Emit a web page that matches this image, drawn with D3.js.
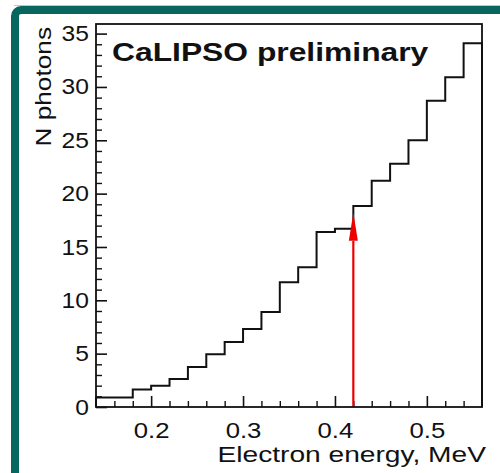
<!DOCTYPE html>
<html>
<head>
<meta charset="utf-8">
<script src="https://cdn.jsdelivr.net/npm/d3@7"></script>
<style>
    html, body { margin: 0; padding: 0; background: #fff; }
    svg { display: block; }
    text { font-family: "Liberation Sans", Arial, sans-serif; fill: #111; }
</style>
</head>
<body>
<script>

// histogram: 21 bins of 0.02 MeV starting at 0.14
var binStart = 0.14;
var binWidth = 0.02;
var counts = [0.9, 0.9, 1.63, 2.0, 2.63, 3.75, 4.94, 6.1, 7.3, 8.9, 11.7,
              13.1, 16.4, 16.7, 18.85, 21.2, 22.8, 25.0, 28.7, 30.9, 34.1];

var xTicks = [0.2, 0.3, 0.4, 0.5];
var yTicks = [0, 5, 10, 15, 20, 25, 30, 35];

// red marker arrow
var arrowEnergy = [0.42];
var arrowTop = [18.2];

var W = 500, H = 473;
var frame = { left: 96, top: 24, right: 482, bottom: 407 };

var svg = d3.select("body").append("svg")
    .attr("width", W)
    .attr("height", H);

// teal slide border (extends past the picture on right/bottom)
svg.append("line")
    .attr("x1", 14).attr("x2", W)
    .attr("y1", 5.5).attr("y2", 5.5)
    .attr("stroke", "#b3cdcf")
    .attr("stroke-width", 1);

svg.append("rect")
    .attr("x", 15).attr("y", 10)
    .attr("width", 600).attr("height", 600)
    .attr("rx", 6)
    .attr("fill", "none")
    .attr("stroke", "#07675f")
    .attr("stroke-width", 8);

var xMax = binStart + binWidth * counts.length;

var x = d3.scaleLinear()
    .domain([binStart, xMax])
    .range([frame.left, frame.right]);

var y = d3.scaleLinear()
    .domain([0, 35.9])
    .range([frame.bottom, frame.top]);

// text in the original is stretched along its reading direction
var SX = 1.17;

function stretch(sel, sx) {
    sel.each(function () {
        var t = d3.select(this);
        var tx = +t.attr("x") || 0;
        var ty = +t.attr("y") || 0;
        t.attr("x", null).attr("y", null)
            .attr("transform", "translate(" + tx + "," + ty + ") scale(" + sx + ",1)");
    });
}

// minor ticks
var xMinor = d3.range(1, counts.length)
    .map(function (i) { return +(binStart + i * binWidth).toFixed(2); })
    .filter(function (v) { return xTicks.indexOf(v) < 0; });

var yMinor = d3.range(1, 36).filter(function (v) { return v % 5 !== 0; });

svg.append("g")
    .attr("transform", "translate(0," + frame.bottom + ")")
    .call(d3.axisBottom(x).tickValues(xMinor).tickSize(-6).tickFormat(""))
    .call(function (g) { g.select(".domain").remove(); })
    .selectAll("line").attr("stroke", "#111").attr("stroke-width", 1.4);

svg.append("g")
    .attr("transform", "translate(" + frame.left + ",0)")
    .call(d3.axisLeft(y).tickValues(yMinor).tickSize(-6).tickFormat(""))
    .call(function (g) { g.select(".domain").remove(); })
    .selectAll("line").attr("stroke", "#111").attr("stroke-width", 1.4);

// major ticks + labels
var xAxis = svg.append("g")
    .attr("transform", "translate(0," + frame.bottom + ")")
    .call(d3.axisBottom(x)
        .tickValues(xTicks)
        .tickSize(-11)
        .tickPadding(15)
        .tickFormat(d3.format(".1f")));
xAxis.select(".domain").remove();
xAxis.selectAll("line").attr("stroke", "#111").attr("stroke-width", 1.6);
xAxis.selectAll("text")
    .attr("font-size", 22)
    .attr("font-family", "Liberation Sans, Arial, sans-serif")
    .attr("fill", "#111")
    .call(stretch, SX);

var yAxis = svg.append("g")
    .attr("transform", "translate(" + frame.left + ",0)")
    .call(d3.axisLeft(y)
        .tickValues(yTicks)
        .tickSize(-11)
        .tickPadding(7));
yAxis.select(".domain").remove();
yAxis.selectAll("line").attr("stroke", "#111").attr("stroke-width", 1.6);
yAxis.selectAll("text")
    .attr("font-size", 22)
    .attr("font-family", "Liberation Sans, Arial, sans-serif")
    .attr("fill", "#111")
    .call(stretch, 1.12);

// histogram outline
var pts = [[binStart, 0]];
counts.forEach(function (c, i) {
    pts.push([binStart + i * binWidth, c]);
});
pts.push([xMax, counts[counts.length - 1]]);
pts.push([xMax, 0]);

var step = d3.line()
    .x(function (d) { return x(d[0]); })
    .y(function (d) { return y(d[1]); })
    .curve(d3.curveStepAfter);

svg.append("path")
    .datum(pts)
    .attr("d", step)
    .attr("fill", "none")
    .attr("stroke", "#111")
    .attr("stroke-width", 2);

// red arrow
var headLen = 28, headHalf = 4.5;
arrowEnergy.forEach(function (e, i) {
    var ax = x(e);
    var tipY = y(arrowTop[i]);
    svg.append("line")
        .attr("x1", ax).attr("x2", ax)
        .attr("y1", y(0)).attr("y2", tipY + headLen)
        .attr("stroke", "#ee0000")
        .attr("stroke-width", 2.2);
    svg.append("path")
        .attr("d", "M" + ax + "," + tipY +
            "L" + (ax + headHalf) + "," + (tipY + headLen) +
            "L" + (ax - headHalf) + "," + (tipY + headLen) + "Z")
        .attr("fill", "#ee0000");
});

// frame
svg.append("rect")
    .attr("x", frame.left).attr("y", frame.top)
    .attr("width", frame.right - frame.left)
    .attr("height", frame.bottom - frame.top)
    .attr("fill", "none")
    .attr("stroke", "#111")
    .attr("stroke-width", 1.8);

// titles
svg.append("text")
    .attr("x", 112).attr("y", 61)
    .attr("font-size", 26.5)
    .attr("font-weight", "bold")
    .text("CaLIPSO preliminary")
    .call(stretch, 1.2);

svg.append("text")
    .attr("x", 486).attr("y", 462)
    .attr("text-anchor", "end")
    .attr("font-size", 22)
    .text("Electron energy, MeV")
    .call(stretch, 1.28);

svg.append("text")
    .attr("text-anchor", "end")
    .attr("font-size", 21.5)
    .attr("transform", "translate(51,27) rotate(-90) scale(1.22,1)")
    .text("N photons");

</script>
</body>
</html>
